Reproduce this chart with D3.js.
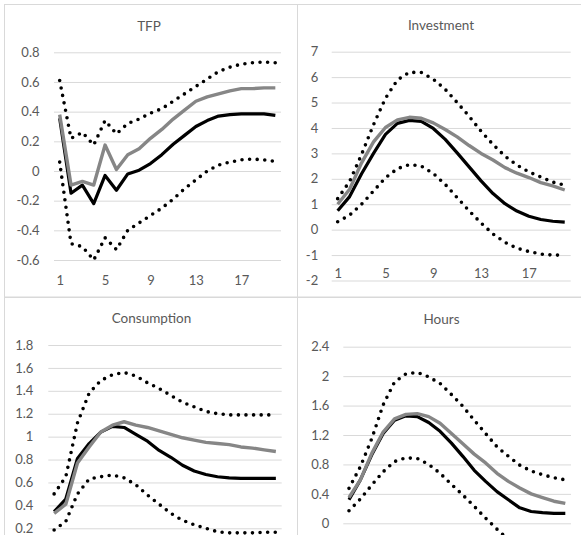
<!DOCTYPE html>
<html>
<head>
<meta charset="utf-8">
<script src="https://cdn.jsdelivr.net/npm/d3@7"></script>
<style>
	body { margin: 0; background: #fff; }
	svg { display: block; }
	text { font-family: Lato, "Open Sans", sans-serif; fill: #595959; }
</style>
</head>
<body>
<script>
const width = 581;
const height = 535;

const periods = [1, 2, 3, 4, 5, 6, 7, 8, 9, 10, 11, 12, 13, 14, 15, 16, 17, 18, 19, 20];
const xTickLabels = [1, 5, 9, 13, 17];

// TFP
const tfpTicks = [0.8, 0.6, 0.4, 0.2, 0, -0.2, -0.4, -0.6];
const tfpUpper = [0.61, 0.22, 0.26, 0.175, 0.34, 0.25, 0.32, 0.35, 0.39, 0.42, 0.47, 0.52, 0.57, 0.62, 0.67, 0.70, 0.72, 0.73, 0.735, 0.73];
const tfpLower = [0.06, -0.49, -0.51, -0.60, -0.45, -0.53, -0.40, -0.35, -0.30, -0.25, -0.19, -0.12, -0.06, 0.0, 0.04, 0.06, 0.075, 0.08, 0.075, 0.065];
const tfpBlack = [0.355, -0.15, -0.095, -0.22, -0.03, -0.13, -0.02, 0.005, 0.05, 0.11, 0.18, 0.24, 0.30, 0.34, 0.37, 0.38, 0.385, 0.385, 0.385, 0.375];
const tfpGrey = [0.38, -0.095, -0.07, -0.095, 0.175, 0.01, 0.11, 0.15, 0.22, 0.28, 0.35, 0.41, 0.47, 0.50, 0.52, 0.54, 0.555, 0.555, 0.56, 0.56];

// Investment
const invTicks = [7, 6, 5, 4, 3, 2, 1, 0, -1, -2];
const invUpper = [1.22, 1.9, 2.96, 4.13, 5.17, 5.89, 6.19, 6.18, 5.92, 5.52, 5.0, 4.46, 3.87, 3.35, 2.89, 2.54, 2.27, 2.07, 1.87, 1.75];
const invLower = [0.31, 0.57, 1.0, 1.52, 2.04, 2.40, 2.56, 2.5, 2.21, 1.78, 1.26, 0.74, 0.26, -0.17, -0.50, -0.73, -0.86, -0.96, -1.0, -1.0];
const invBlack = [0.74, 1.3, 2.2, 3.0, 3.75, 4.18, 4.3, 4.26, 3.98, 3.55, 3.02, 2.47, 1.92, 1.42, 1.02, 0.73, 0.53, 0.40, 0.33, 0.30];
const invGrey = [1.0, 1.59, 2.63, 3.45, 4.02, 4.32, 4.42, 4.38, 4.2, 3.94, 3.65, 3.31, 3.0, 2.74, 2.44, 2.22, 2.05, 1.85, 1.72, 1.56];

// Consumption
const consTicks = [1.8, 1.6, 1.4, 1.2, 1, 0.8, 0.6, 0.4, 0.2];
const consUpper = [0.50, 0.65, 1.12, 1.38, 1.49, 1.54, 1.56, 1.53, 1.47, 1.42, 1.36, 1.30, 1.26, 1.22, 1.20, 1.19, 1.19, 1.19, 1.19, 1.19];
const consLower = [0.185, 0.26, 0.50, 0.63, 0.65, 0.665, 0.64, 0.58, 0.49, 0.41, 0.33, 0.27, 0.23, 0.20, 0.17, 0.16, 0.16, 0.16, 0.165, 0.165];
const consBlack = [0.345, 0.456, 0.81, 0.94, 1.04, 1.09, 1.08, 1.02, 0.96, 0.88, 0.82, 0.75, 0.70, 0.67, 0.65, 0.64, 0.635, 0.635, 0.635, 0.635];
const consGrey = [0.33, 0.41, 0.77, 0.91, 1.04, 1.10, 1.13, 1.10, 1.08, 1.05, 1.02, 0.99, 0.97, 0.95, 0.94, 0.93, 0.91, 0.90, 0.885, 0.87];

// Hours
const hoursTicks = [2.4, 2, 1.6, 1.2, 0.8, 0.4, 0];
const hoursUpper = [0.475, 0.77, 1.15, 1.61, 1.92, 2.03, 2.05, 1.99, 1.90, 1.75, 1.59, 1.40, 1.22, 1.04, 0.91, 0.79, 0.71, 0.66, 0.62, 0.59];
const hoursLower = [0.17, 0.33, 0.52, 0.70, 0.84, 0.89, 0.88, 0.80, 0.68, 0.53, 0.385, 0.23, 0.07, -0.08, -0.22, -0.33, -0.42, -0.48, -0.52, -0.54];
const hoursBlack = [0.32, 0.59, 0.93, 1.22, 1.40, 1.46, 1.45, 1.37, 1.25, 1.09, 0.91, 0.72, 0.57, 0.43, 0.32, 0.21, 0.16, 0.145, 0.136, 0.136];
const hoursGrey = [0.35, 0.59, 0.95, 1.24, 1.42, 1.48, 1.49, 1.45, 1.36, 1.22, 1.08, 0.94, 0.82, 0.68, 0.57, 0.48, 0.40, 0.35, 0.30, 0.27];


document.addEventListener("DOMContentLoaded", function(event) {
	const svg = d3.select("body")
		.append("svg")
		.attr("width", width)
		.attr("height", height);

	//chart boxes and layout, one per panel
	//the bottom panels are cut by the picture edge, so their category labels fall outside it
	const panels = [
		{title: "TFP", box: [4.5, 4.5, 297.5, 297], titleX: 149, titleY: 31,
		 left: 54, right: 281, domain: [-0.6, 0.8], range: [260, 52.3], labelY: 275.3, pad: 14.5,
		 ticks: tfpTicks, upper: tfpUpper, lower: tfpLower, black: tfpBlack, grey: tfpGrey},
		{title: "Investment", box: [297.5, 4.5, 590, 297], titleX: 441, titleY: 30,
		 left: 331.7, right: 570.7, domain: [-2, 7], range: [280.5, 51.7], labelY: 268.3, pad: 13.5,
		 ticks: invTicks, upper: invUpper, lower: invLower, black: invBlack, grey: invGrey},
		{title: "Consumption", box: [4.5, 297.5, 297.5, 560], titleX: 151.5, titleY: 323,
		 left: 48.3, right: 281.7, domain: [0, 1.8], range: [551.2, 345], labelY: null, pad: 15,
		 ticks: consTicks, upper: consUpper, lower: consLower, black: consBlack, grey: consGrey},
		{title: "Hours", box: [297.5, 297.5, 590, 560], titleX: 441.5, titleY: 324,
		 left: 343.3, right: 571, domain: [0, 2.4], range: [523.3, 346.7], labelY: null, pad: 14,
		 ticks: hoursTicks, upper: hoursUpper, lower: hoursLower, black: hoursBlack, grey: hoursGrey}
	];

	panels.forEach(function(p) {
		drawPanel(svg, p);
	});
});


/**
 * draw one line chart panel with gridlines, labels and four series
 *
 * @param svg, the svg selection to draw into
 * @param p, the panel object (layout plus data arrays)
 * @return nothing
 */
function drawPanel(svg, p) {
	const g = svg.append("g");

	//chart border
	g.append("rect")
		.attr("x", p.box[0])
		.attr("y", p.box[1])
		.attr("width", p.box[2] - p.box[0])
		.attr("height", p.box[3] - p.box[1])
		.attr("fill", "none")
		.attr("stroke", "#d9d9d9")
		.attr("stroke-width", 1);

	const x = d3.scalePoint()
		.domain(periods)
		.range([p.left, p.right])
		.padding(0.5);

	const y = d3.scaleLinear()
		.domain(p.domain)
		.range(p.range);

	//gridlines and y labels
	const yAxis = g.append("g")
		.attr("transform", "translate(" + p.left + ",0)")
		.call(d3.axisLeft(y)
			.tickValues(p.ticks)
			.tickSize(-(p.right - p.left))
			.tickPadding(p.pad)
			.tickFormat(function(d) { return String(d); }));

	yAxis.select(".domain").remove();
	yAxis.selectAll("line")
		.attr("stroke", "#d9d9d9")
		.attr("stroke-width", 1);
	yAxis.selectAll("text")
		.attr("fill", "#595959")
		.style("font-size", "13px")
		.style("font-family", "Lato, sans-serif");

	//category labels
	if (p.labelY !== null) {
		const xAxis = g.append("g")
			.attr("transform", "translate(0," + p.labelY + ")")
			.call(d3.axisBottom(x)
				.tickValues(xTickLabels)
				.tickSize(0)
				.tickPadding(0));

		xAxis.select(".domain").remove();
		xAxis.selectAll("text")
			.attr("fill", "#595959")
			.style("font-size", "13px")
			.style("font-family", "Lato, sans-serif");
	}

	//title
	g.append("text")
		.attr("x", p.titleX)
		.attr("y", p.titleY)
		.attr("text-anchor", "middle")
		.style("font-size", "13.5px")
		.text(p.title);

	const line = d3.line()
		.x(function(d, i) { return x(periods[i]); })
		.y(function(d) { return y(d); });

	g.append("path")
		.attr("d", line(p.black))
		.attr("fill", "none")
		.attr("stroke", "#000")
		.attr("stroke-width", 3.2)
		.attr("stroke-linejoin", "round");

	g.append("path")
		.attr("d", line(p.grey))
		.attr("fill", "none")
		.attr("stroke", "#868686")
		.attr("stroke-width", 3.4)
		.attr("stroke-linejoin", "round");

	[p.upper, p.lower].forEach(function(s) {
		g.append("path")
			.attr("d", line(s))
			.attr("fill", "none")
			.attr("stroke", "#000")
			.attr("stroke-width", 3.6)
			.attr("stroke-linecap", "round")
			.attr("stroke-dasharray", "0 7.6");
	});
}
</script>
</body>
</html>
